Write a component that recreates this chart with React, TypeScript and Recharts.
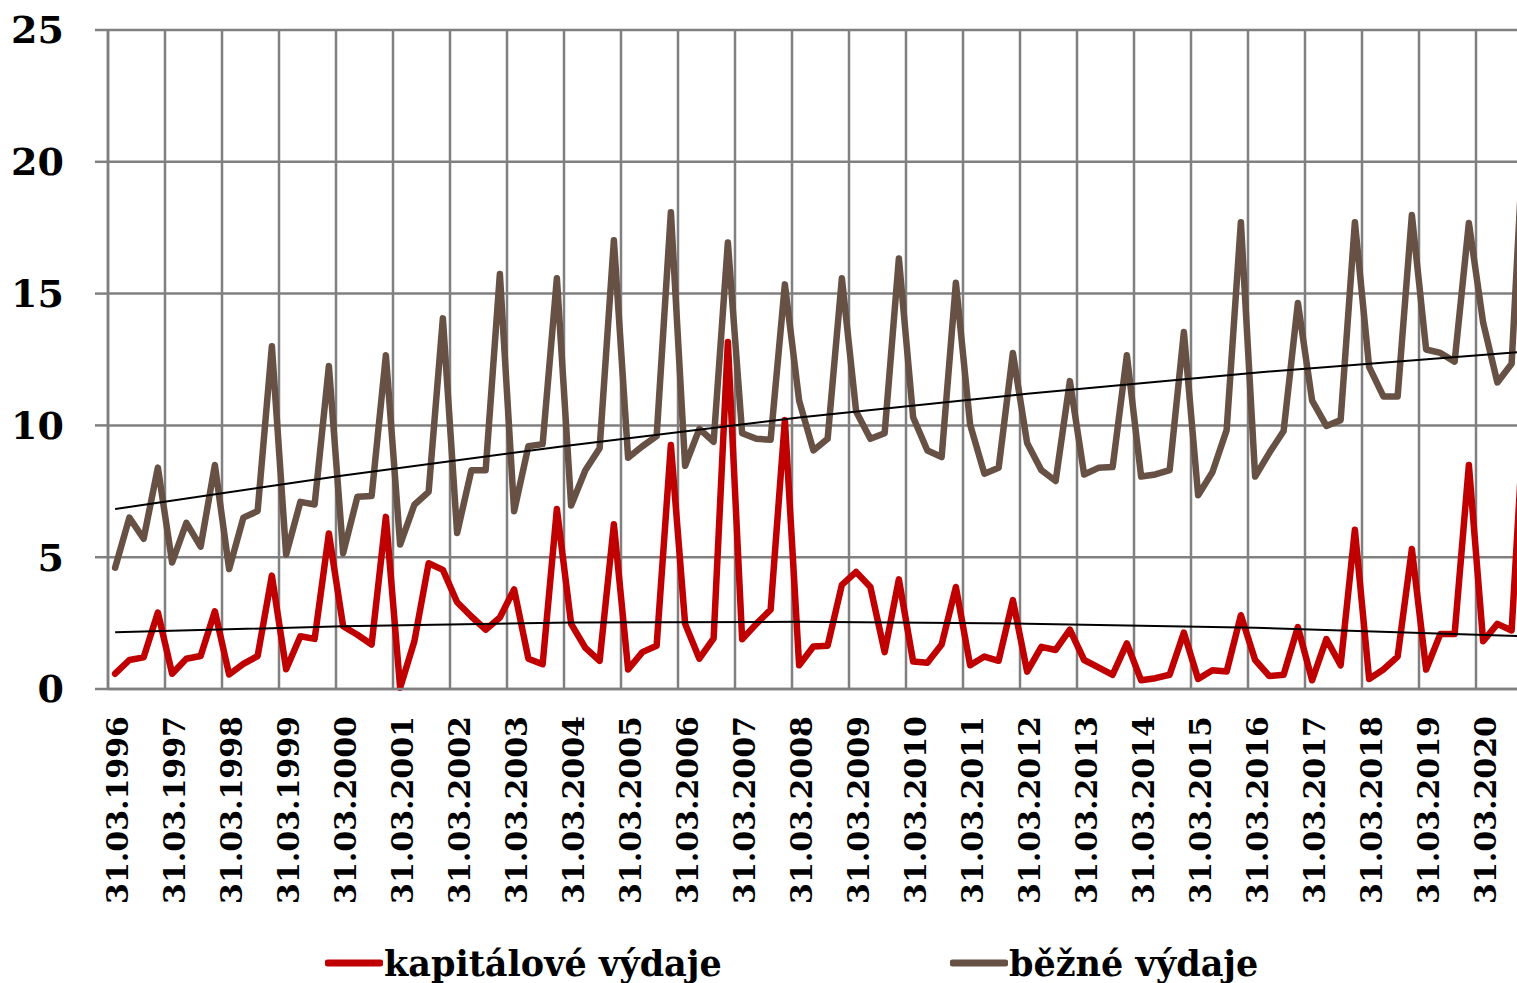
import { LineChart, Line, XAxis, YAxis, CartesianGrid, Legend, ReferenceLine } from "recharts";

// quarters 1996 Q1 .. 2020 Q4 (the last quarter sits just past the picture edge)
const years = [
  1996, 1997, 1998, 1999, 2000, 2001, 2002, 2003, 2004, 2005, 2006, 2007, 2008,
  2009, 2010, 2011, 2012, 2013, 2014, 2015, 2016, 2017, 2018, 2019, 2020,
];
const quarterEnds = ["31.03", "30.06", "30.09", "31.12"];
const categories = years.flatMap((y) => quarterEnds.map((q) => `${q}.${y}`));

// kapitálové výdaje, one value per quarter
const kapitaloveVydaje = [
  0.58, 1.1, 1.2, 2.9, 0.58, 1.15, 1.25, 2.95, 0.55, 0.95, 1.25, 4.3, 0.75, 2.0, 1.9, 5.9,
  2.38, 2.06, 1.69, 6.53, 0.05, 1.81, 4.77, 4.52, 3.29, 2.75, 2.25, 2.71, 3.78, 1.15, 0.94, 6.83,
  2.47, 1.56, 1.07, 6.25, 0.74, 1.4, 1.64, 9.26, 2.47, 1.15, 1.92, 13.16, 1.89, 2.47, 3.01, 10.2,
  0.9, 1.61, 1.64, 3.95, 4.44, 3.87, 1.4, 4.16, 1.04, 1.0, 1.69, 3.87, 0.9, 1.23, 1.07, 3.37,
  0.66, 1.6, 1.48, 2.25, 1.1, 0.82, 0.54, 1.73, 0.33, 0.41, 0.54, 2.14, 0.38, 0.71, 0.66, 2.8,
  1.1, 0.49, 0.54, 2.35, 0.33, 1.89, 0.9, 6.04, 0.38, 0.74, 1.23, 5.31, 0.74, 2.09, 2.09, 8.5,
  1.81, 2.47, 2.22, 11.5,
];

// běžné výdaje, one value per quarter
const bezneVydaje = [
  4.6, 6.5, 5.7, 8.4, 4.8, 6.3, 5.4, 8.5, 4.55, 6.5, 6.75, 13.0, 5.1, 7.1, 7.0, 12.25,
  5.15, 7.29, 7.32, 12.66, 5.48, 6.99, 7.48, 14.06, 5.92, 8.3, 8.3, 15.74, 6.74, 9.21, 9.29, 15.58,
  6.96, 8.3, 9.13, 17.02, 8.77, 9.21, 9.59, 18.09, 8.47, 9.87, 9.38, 16.94, 9.7, 9.49, 9.46, 15.35,
  10.94, 9.05, 9.49, 15.58, 10.53, 9.49, 9.7, 16.33, 10.31, 9.05, 8.8, 15.41, 10.03, 8.17, 8.39, 12.75,
  9.33, 8.3, 7.89, 11.68, 8.14, 8.39, 8.42, 12.66, 8.06, 8.14, 8.3, 13.54, 7.35, 8.22, 9.82, 17.71,
  8.06, 8.96, 9.79, 14.64, 10.94, 9.98, 10.2, 17.71, 12.22, 11.1, 11.1, 17.98, 12.88, 12.75, 12.42, 17.68,
  13.9, 11.63, 12.34, 22.6,
];

// trend lines, read at a few quarters only
const trendQuarters = [0, 16, 32, 48, 64, 80, 99];
const kapitaloveTrend = [2.15, 2.38, 2.52, 2.55, 2.48, 2.32, 2.0];
const bezneTrend = [6.83, 8.1, 9.25, 10.3, 11.2, 12.0, 12.8];

const yTicks = [0, 5, 10, 15, 20, 25];
const labelTicks = [
  0, 4, 8, 12, 16, 20, 24, 28, 32, 36, 40, 44, 48, 52, 56, 60, 64, 68, 72, 76, 80, 84, 88, 92, 96,
];
// gridlines and tick marks sit on the year boundaries, between categories
const gridTicks = [...labelTicks.map((t) => t - 0.5), 99.5];

const RED = "#C00000";
const BROWN = "#675044";
const GRID = "#808080";
const FONT = "'DejaVu Serif', serif";

const rows = categories.map((name, i) => {
  const t = trendQuarters.indexOf(i);
  return {
    i,
    name,
    kap: kapitaloveVydaje[i],
    bez: bezneVydaje[i],
    kapTrend: t >= 0 ? kapitaloveTrend[t] : null,
    bezTrend: t >= 0 ? bezneTrend[t] : null,
  };
});

const legendItems = [
  { name: "kapitálové výdaje", color: RED },
  { name: "běžné výdaje", color: BROWN },
];
const legendLeft = [325, 950];

const DateTick = (props: any) => {
  const { x, y, payload } = props;
  return (
    <text
      x={x + 2}
      y={y}
      transform={`rotate(-90, ${x + 2}, ${y})`}
      textAnchor="end"
      dominantBaseline="central"
      fontFamily={FONT}
      fontSize={30}
      fontWeight={700}
      fill="#000"
    >
      {categories[payload.value]}
    </text>
  );
};

const renderLegend = () => (
  <div style={{ position: "relative", height: 44 }}>
    {legendItems.map((item, k) => (
      <div
        key={item.name}
        style={{
          position: "absolute",
          left: legendLeft[k],
          top: 2,
          height: 44,
          display: "flex",
          alignItems: "center",
          whiteSpace: "nowrap",
        }}
      >
        <svg width={58} height={12}>
          <line x1={3} y1={6} x2={55} y2={6} stroke={item.color} strokeWidth={7} strokeLinecap="round" />
        </svg>
        <span
          style={{
            fontFamily: FONT,
            fontWeight: 700,
            fontSize: 35,
            color: "#000",
            marginLeft: 1,
          }}
        >
          {item.name}
        </span>
      </div>
    ))}
  </div>
);

export default function App() {
  return (
    <div
      style={{
        position: "absolute",
        left: 0,
        top: 0,
        width: 1517,
        height: 983,
        overflow: "hidden",
        background: "#fff",
      }}
    >
      <LineChart
        width={1545}
        height={983}
        data={rows}
        margin={{ top: 30, right: 12, bottom: 0, left: 0 }}
      >
        <CartesianGrid vertical={false} stroke={GRID} strokeWidth={2.5} />
        {gridTicks.map((t) => (
          <ReferenceLine key={t} xAxisId="grid" x={t} stroke={GRID} strokeWidth={2.5} />
        ))}
        <XAxis
          xAxisId="grid"
          dataKey="i"
          type="number"
          domain={[-0.5, 99.5]}
          ticks={gridTicks}
          interval={0}
          tick={false}
          tickSize={12}
          height={12}
          axisLine={{ stroke: GRID, strokeWidth: 2.5 }}
          tickLine={{ stroke: GRID, strokeWidth: 2.5 }}
        />
        <XAxis
          xAxisId="labels"
          dataKey="i"
          type="number"
          domain={[-0.5, 99.5]}
          ticks={labelTicks}
          interval={0}
          tickSize={0}
          tickMargin={15}
          height={238}
          axisLine={false}
          tickLine={false}
          tick={<DateTick />}
        />
        <YAxis
          domain={[0, 25]}
          ticks={yTicks}
          interval={0}
          width={108}
          tickSize={13}
          tickMargin={31}
          axisLine={{ stroke: GRID, strokeWidth: 2.5 }}
          tickLine={{ stroke: GRID, strokeWidth: 2.5 }}
          tick={{ fill: "#000", fontSize: 38, fontWeight: 700, fontFamily: FONT }}
        />
        <Legend verticalAlign="bottom" content={renderLegend} />
        <Line
          xAxisId="grid"
          dataKey="bez"
          name="běžné výdaje"
          type="linear"
          stroke={BROWN}
          strokeWidth={6.5}
          strokeLinejoin="round"
          strokeLinecap="round"
          dot={false}
          isAnimationActive={false}
        />
        <Line
          xAxisId="grid"
          dataKey="kap"
          name="kapitálové výdaje"
          type="linear"
          stroke={RED}
          strokeWidth={6.5}
          strokeLinejoin="round"
          strokeLinecap="round"
          dot={false}
          isAnimationActive={false}
        />
        <Line
          xAxisId="grid"
          dataKey="bezTrend"
          type="monotone"
          connectNulls
          stroke="#000"
          strokeWidth={2}
          dot={false}
          legendType="none"
          isAnimationActive={false}
        />
        <Line
          xAxisId="grid"
          dataKey="kapTrend"
          type="monotone"
          connectNulls
          stroke="#000"
          strokeWidth={2}
          dot={false}
          legendType="none"
          isAnimationActive={false}
        />
      </LineChart>
    </div>
  );
}
